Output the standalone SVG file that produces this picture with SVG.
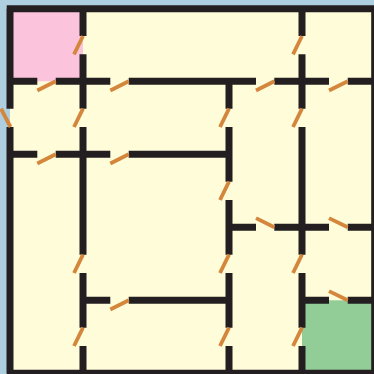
<svg xmlns="http://www.w3.org/2000/svg" width="374" height="374" viewBox="0 0 374 374">
<style>
.wall{stroke:#231f20;stroke-width:7;fill:none;stroke-linecap:butt}
.door{stroke:#d4873c;stroke-width:3.8;fill:none;stroke-linecap:butt}
</style>
<rect x="0" y="0" width="374" height="374" fill="#aecfe0"/>
<rect x="10" y="8.3" width="364" height="365" fill="#fffcd9"/>
<rect x="10" y="8.3" width="73" height="73" fill="#fbc4dc"/>
<rect x="302" y="300.3" width="72" height="73" fill="#92cc96"/>
<path class="wall" d="M6.7 8.7H374.7V376
M10 8.7V108.7M10 127V373.3
M83 8.7V36M83 54.3V108.7M83 127V254.7M83 273V327.7M83 346V373.3
M229 81.3V108.7M229 127V181.7M229 200V254.7M229 273V327.7M229 346V373.3
M302 8.7V36M302 54.3V108.7M302 127V254.7M302 273V327.7M302 346V373.3
M10 81.3H37.3M55.7 81.3H110.3M128.7 81.3H256M274.3 81.3H329M347.7 81.3H374
M10 154.3H37.3M55.7 154.3H110.3M128.7 154.3H229
M229 227.3H256M274.3 227.3H329M347.7 227.3H374
M83 300.3H110.3M128.7 300.3H229M302 300.3H329M347.7 300.3H374
M6.7 373.3H374"/>
<path class="door" d="M10.5 127L1 108.7
M83 36L74 54.3M83 108.7L74 127M83 254.7L74 273M83 327.7L74 346
M229 108.7L220 127M229 181.7L220 200M229 254.7L220 273M229 327.7L220 346
M302 36L293 54.3M302 108.7L293 127M302 254.7L293 273M302 327.7L293 346
M37.3 90.5L55.7 81.3M110.3 90.5L128.7 81.3M256 90.5L274.3 81.3M329 90.5L347.7 81.3
M37.3 163.5L55.7 154.3M110.3 163.5L128.7 154.3
M256 218.1L274.3 227.3M329 218.1L347.7 227.3
M110.3 309.5L128.7 300.3M329 291.1L347.7 300.3"/>
</svg>
